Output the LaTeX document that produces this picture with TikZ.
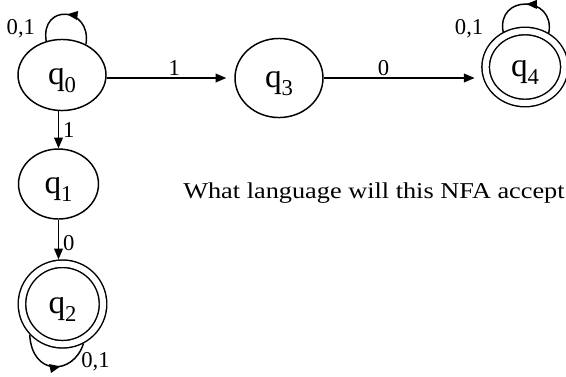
\documentclass[tikz,border=0pt]{standalone}
\usepackage{fontspec}
\setmainfont{Liberation Serif}
\usetikzlibrary{arrows.meta, positioning, shapes.geometric, decorations.markings}

\tikzset{
    st/.style={ellipse, draw, line width=1.1pt, inner sep=0pt,
        text height=21pt, text depth=7pt, font=\fontsize{25}{25}\selectfont},
    acc/.style={st, double, double distance=4.5pt, outer sep=3.3pt},
    trans/.style={line width=1.1pt, -{Triangle[length=8pt,width=6.5pt]}},
    loopy/.style={line width=1.1pt, postaction={decorate},
        decoration={markings, mark=at position #1 with {\arrow{Triangle[length=8pt,width=6.5pt]}}}},
    loopy/.default=0.5,
    elbl/.style={font=\fontsize{17}{17}\selectfont, inner sep=1pt},
}
\newcommand{\stname}[1]{q\raisebox{-6pt}{\fontsize{17}{17}\selectfont #1}}

\begin{document}
\begin{tikzpicture}[x=0.75pt, y=-0.75pt]
    \useasboundingbox (0,0) rectangle (566,376);
    \clip (0,0) rectangle (566,376);

    % states
    \node[st, minimum width=66pt, minimum height=53.3pt] (q0) at (62,75) {\stname{0}};
    \node[st, minimum width=60pt, minimum height=52.5pt] (q1) at (58.5,184) {\stname{1}};
    \node[acc, minimum width=60.8pt, minimum height=60.4pt] (q2) at (62.5,304) {\stname{2}};
    \node[st, minimum width=66pt, minimum height=59.3pt] (q3) at (279,78) {\stname{3}};
    \node[acc, minimum width=59pt, minimum height=54pt] (q4) at (525,67) {\stname{4}};

    % transitions
    \draw[trans, shorten >=6pt] (q0.east |- q3.west) -- (q3.west)
        node[elbl, pos=0.53, above] {1};
    \draw[trans, shorten >=5pt] (q3.east) -- (q3.east -| q4.west)
        node[elbl, pos=0.38, above] {0};
    \draw[trans] (q0.south -| q1.north) -- (q1.north)
        node[elbl, midway, right, xshift=2pt] {1};
    \draw[trans] (q1.south) -- (q1.south |- q2.north)
        node[elbl, pos=0.6, right, xshift=2pt] {0};

    % self loops
    \draw[loopy] (q0.52) .. controls +(6,-38) and +(-6,-38) .. (q0.115)
        node[elbl, pos=1, xshift=-19pt, yshift=9pt] {0,1};
    \draw[loopy] (q4.55) .. controls +(7,-38) and +(-7,-38) .. (q4.122)
        node[elbl, pos=1, xshift=-25.5pt, yshift=2.6pt] {0,1};
    \draw[loopy=0.6] (q2.223) .. controls +(2,42) and +(-10,32) .. (q2.298)
        node[elbl, pos=1, xshift=9pt, yshift=-14pt] {0,1};

    % question
    \node[anchor=base west, inner sep=0pt, font=\fontsize{17}{17}\selectfont] (ask) at (183,198)
        {\scalebox{1.16}[1]{What language will this NFA accept}};
\end{tikzpicture}
\end{document}
